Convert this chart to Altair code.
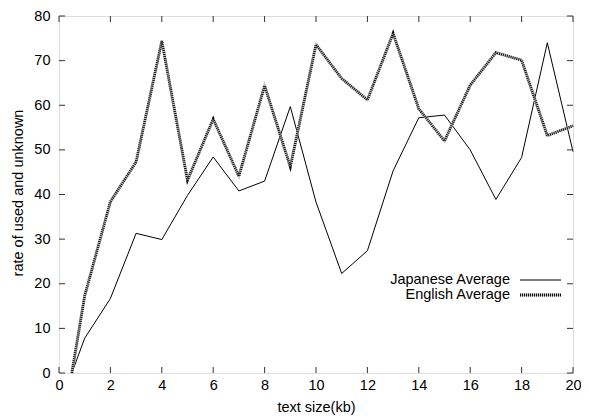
import altair as alt
import pandas as pd

size_kb = [0.5, 1, 2, 3, 4, 5, 6, 7, 8, 9, 10, 11, 12, 13, 14, 15, 16, 17, 18, 19, 20]
japanese = [0, 7.8, 16.7, 31.3, 29.9, 39.8, 48.4, 40.8, 43.0, 59.7, 38.3, 22.3, 27.4, 45.3, 57.2, 57.8, 50.0, 38.9, 48.3, 74.0, 49.6]
english = [0, 17.3, 38.4, 47.3, 74.4, 43.2, 56.9, 44.1, 64.4, 46.2, 73.6, 66.0, 61.2, 76.1, 59.2, 52.0, 64.5, 71.8, 70.1, 53.2, 55.4]
series_names = ["Japanese Average", "English Average"]
x_ticks = [0, 2, 4, 6, 8, 10, 12, 14, 16, 18, 20]
y_ticks = [0, 10, 20, 30, 40, 50, 60, 70, 80]

W, H = 514, 357
FONT = "Liberation Sans"
FS = 14.5

df = pd.DataFrame({"x": size_kb, "jp": japanese, "en": english})
xt = pd.DataFrame({"t": x_ticks})
yt = pd.DataFrame({"t": y_ticks})

xs = alt.Scale(domain=[0, 20], nice=False, zero=False)
ys = alt.Scale(domain=[0, 80], nice=False, zero=False)

xaxis = alt.Axis(values=x_ticks, tickSize=0, domain=False, grid=False, labelPadding=5,
                 labelFont=FONT, labelFontSize=FS, labelColor="black", labelFlush=False,
                 title="text size(kb)", titleFont=FONT, titleFontSize=FS, titleFontWeight="normal",
                 titleColor="black", titleBaseline="alphabetic", titleY=38)
yaxis = alt.Axis(values=y_ticks, tickSize=0, domain=False, grid=False, labelPadding=9,
                 labelFont=FONT, labelFontSize=FS, labelColor="black", labelFlush=False,
                 title="rate of used and unknown", titleFont=FONT, titleFontSize=FS,
                 titleFontWeight="normal", titleColor="black", titleAngle=270,
                 titleBaseline="middle", titleAlign="center", titleX=-41, titleY=H / 2 - 2)

base = alt.Chart(df)

jp_line = base.mark_line(color="black", strokeWidth=1).encode(
    x=alt.X("x:Q", scale=xs, axis=xaxis),
    y=alt.Y("jp:Q", scale=ys, axis=yaxis),
)
en_under = base.mark_line(color="#c4c4c4", strokeWidth=2.8).encode(
    x=alt.X("x:Q", scale=xs), y=alt.Y("en:Q", scale=ys))
en_over = base.mark_line(color="#111111", strokeWidth=2.8, strokeDash=[1, 1]).encode(
    x=alt.X("x:Q", scale=xs), y=alt.Y("en:Q", scale=ys))

tick_style = dict(color="#333333", strokeWidth=1)
bt = alt.Chart(xt).mark_rule(**tick_style).encode(
    x=alt.X("t:Q", scale=xs), y=alt.value(H), y2=alt.value(H - 6))
tt = alt.Chart(xt).mark_rule(**tick_style).encode(
    x=alt.X("t:Q", scale=xs), y=alt.value(0), y2=alt.value(6))
lt = alt.Chart(yt).mark_rule(**tick_style).encode(
    y=alt.Y("t:Q", scale=ys), x=alt.value(0), x2=alt.value(6))
rt = alt.Chart(yt).mark_rule(**tick_style).encode(
    y=alt.Y("t:Q", scale=ys), x=alt.value(W), x2=alt.value(W - 6))

LX = 451
leg_jp = pd.DataFrame({"name": [series_names[0]]})
leg_en = pd.DataFrame({"name": [series_names[1]]})
txt_style = dict(font=FONT, fontSize=FS, align="right", baseline="middle", color="black")
jp_txt = alt.Chart(leg_jp).mark_text(**txt_style).encode(
    text="name:N", x=alt.value(LX), y=alt.value(264))
en_txt = alt.Chart(leg_en).mark_text(**txt_style).encode(
    text="name:N", x=alt.value(LX), y=alt.value(279))
jp_sym = alt.Chart(leg_jp).mark_rule(color="black", strokeWidth=1).encode(
    x=alt.value(LX + 10), x2=alt.value(LX + 51), y=alt.value(264))
en_sym_u = alt.Chart(leg_en).mark_rule(color="#c4c4c4", strokeWidth=2.8).encode(
    x=alt.value(LX + 10), x2=alt.value(LX + 51), y=alt.value(279))
en_sym_o = alt.Chart(leg_en).mark_rule(color="#111111", strokeWidth=2.8, strokeDash=[1, 1]).encode(
    x=alt.value(LX + 10), x2=alt.value(LX + 51), y=alt.value(279))

chart = alt.layer(
    jp_line, en_under, en_over, bt, tt, lt, rt,
    jp_txt, en_txt, jp_sym, en_sym_u, en_sym_o,
).properties(
    width=W, height=H,
    autosize=alt.AutoSizeParams(type="none"),
    padding={"left": 51, "top": 8, "right": 8, "bottom": 44},
).configure_view(
    stroke="#333333", strokeWidth=1
).configure(background="white")

chart.save("out.html", embed_options={"renderer": "svg", "actions": False})
